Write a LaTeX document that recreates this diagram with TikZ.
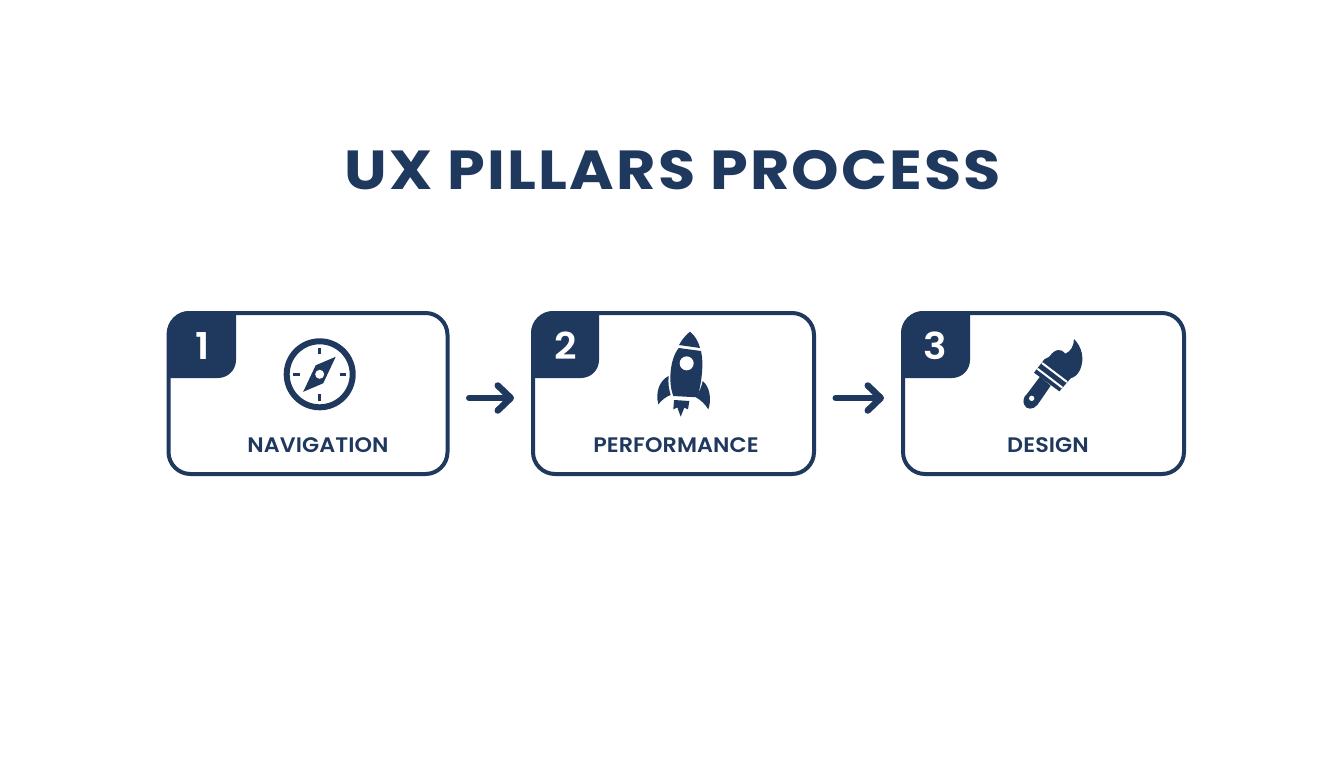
\documentclass[tikz,border=0pt]{standalone}
\usepackage{fontspec}
\setmainfont{Poppins}
\newfontfamily\titlefont[LetterSpace=3.9,FakeStretch=1.1]{Poppins Bold}
\newfontfamily\labelfont[FakeStretch=1.06,LetterSpace=0.5]{Poppins SemiBold}
\usepackage{tikz}
\usetikzlibrary{arrows.meta,shapes,positioning,calc}
\definecolor{navy}{RGB}{31,56,94}
\tikzset{
    pillar/.style={draw=navy, line width=4pt, rounded corners=22pt, minimum width=279pt, minimum height=161pt, inner sep=0pt},
    badge/.style={text=white, font=\fontsize{37}{37}\labelfont, inner sep=0pt},
    pillarlabel/.style={text=navy, font=\fontsize{21}{21}\labelfont, inner sep=0pt},
    flow/.style={draw=navy, line width=6pt, line cap=round, shorten <=19.5pt, shorten >=17pt, -{Straight Barb[length=13pt, width=25pt, line width=6.5pt, round]}}
}

\begin{document}
\begin{tikzpicture}[x=1pt, y=-1pt]
    \useasboundingbox (0,0) rectangle (1344,768);
    \fill[white] (0,0) rectangle (1344,768);

    % Title
    \node[text=navy, font=\fontsize{55}{55}\titlefont, inner sep=0pt] (title) at (673,170) {UX PILLARS PROCESS};

    % Three boxes
    \node[pillar] (nav) at (308,393.5) {};
    \node[pillar, minimum width=281pt] (perf) at (673.5,393.5) {};
    \node[pillar, minimum width=281pt] (des) at (1043.5,393.5) {};

    % Number tabs
    \fill[navy] (167,378) -- (167,333) arc (180:270:22) -- (236,311) -- (236,360) arc (0:90:18) -- cycle;
    \fill[navy] (531,378) -- (531,333) arc (180:270:22) -- (599,311) -- (599,360) arc (0:90:18) -- cycle;
    \fill[navy] (901,378) -- (901,333) arc (180:270:22) -- (970,311) -- (970,360) arc (0:90:18) -- cycle;
    \node[badge] (one) at (203,346) {1};
    \node[badge] (two) at (566,346) {2};
    \node[badge] (three) at (935,346) {3};

    % Labels
    \node[pillarlabel] (navlabel) at (318,445) {NAVIGATION};
    \node[pillarlabel] (perflabel) at (676,445) {PERFORMANCE};
    \node[pillarlabel] (deslabel) at (1048,445) {DESIGN};

    % Arrows between boxes
    \draw[flow] ([yshift=-4.5pt]nav.east) -- ([yshift=-4.5pt]perf.west);
    \draw[flow] ([yshift=-4.5pt]perf.east) -- ([yshift=-4.5pt]des.west);

    % Compass
    \coordinate (c1) at (319.7,374.3);
    \draw[navy, line width=6pt] (c1) circle (33);
    \foreach \a in {0,90,180,270} {
        \draw[navy, line width=2.8pt] (c1) ++(\a:20) -- ++(\a:6.5);
    }
    \fill[navy] (c1) ++(16,-17.5) -- ++(-20,8.5) -- ++(-12.5,26.5) -- ++(20,-8.5) -- cycle;
    \fill[white] (c1) circle (4.5);

    % Rocket
    \begin{scope}[shift={(620,320)}, scale=1/3]
        \fill[navy] (210,35) .. controls (226,48) and (235,65) .. (240,84) -- (177,75) .. controls (185,60) and (197,45) .. (210,35) -- cycle;
        \fill[navy] (176,84) -- (243,93) .. controls (252,130) and (245,190) .. (232,232) -- (160,228) .. controls (145,190) and (148,120) .. (176,84) -- cycle;
        \fill[white] (200,130) circle (21);
        \fill[navy] (146,168) .. controls (120,180) and (105,215) .. (115,253) .. controls (125,240) and (138,230) .. (152,225) .. controls (146,205) and (144,190) .. (146,168) -- cycle;
        \fill[navy] (248,183) .. controls (270,200) and (275,240) .. (265,268) .. controls (255,252) and (242,240) .. (228,232) .. controls (238,215) and (245,200) .. (248,183) -- cycle;
        \fill[navy] (162,240) -- (208,243) -- (204,268) -- (193,263) -- (182,290) -- (172,262) -- (160,268) -- cycle;
    \end{scope}

    % Paint brush
    \begin{scope}[shift={(1000,325)}, scale=1/3]
        \fill[navy] (148,95) .. controls (165,70) and (185,70) .. (196,86) .. controls (212,80) and (222,62) .. (222,42) .. controls (245,65) and (255,100) .. (240,135) .. controls (232,150) and (224,156) .. (212,160) -- (178,199) -- (102,143) -- (133,103) -- cycle;
        \fill[navy] (120,155) -- (152,182) -- (112,240) .. controls (100,255) and (78,255) .. (72,238) .. controls (68,225) and (72,215) .. (80,208) -- cycle;
        \draw[white, line width=2pt] (126,114) -- (201,171);
        \draw[white, line width=2pt] (112,131) -- (187,188);
        \fill[white] (95,220) circle (8);
    \end{scope}
\end{tikzpicture}
\end{document}
